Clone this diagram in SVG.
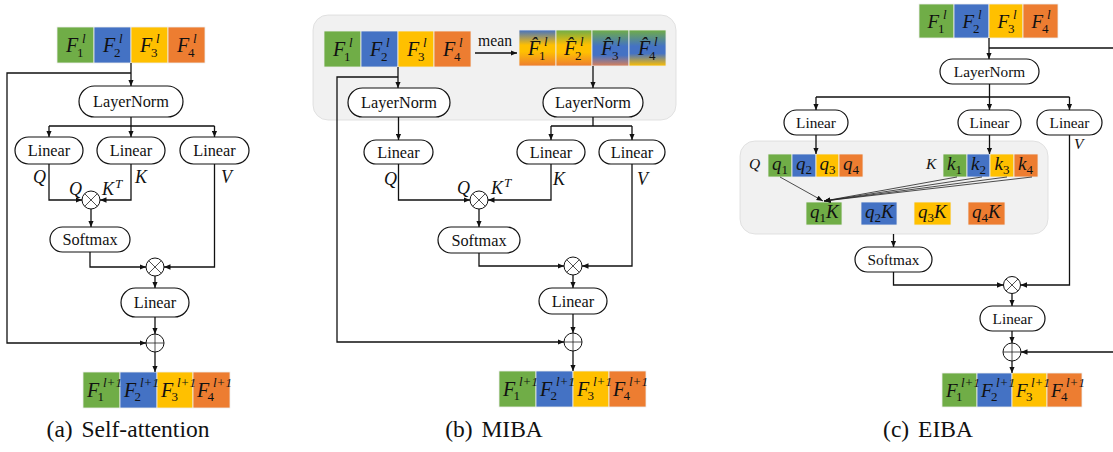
<svg xmlns="http://www.w3.org/2000/svg" width="1113" height="452" viewBox="0 0 1113 452">
<style>
.bg{fill:#fff}
.g{fill:#70AD47}.b{fill:#4472C4}.y{fill:#FFC000}.o{fill:#ED7D31}
.cell{stroke:#eeeeee;stroke-width:0.8}
.box{fill:#fff;stroke:#111;stroke-width:1.2}
.panel{fill:#F1F1F1;stroke:#dadada;stroke-width:0.8}
.t{font-family:"Liberation Serif","Times New Roman",serif;font-size:16.3px;fill:#111;text-anchor:middle}
.ts{font-family:"Liberation Serif","Times New Roman",serif;font-size:15.3px;fill:#111;text-anchor:middle}
.cap{font-family:"Liberation Serif","Times New Roman",serif;font-size:23.5px;fill:#111;text-anchor:middle;word-spacing:3px}
.F{font-family:"Liberation Serif","Times New Roman",serif;font-style:italic;font-size:20px;fill:#111}
.Fs{font-family:"Liberation Serif","Times New Roman",serif;font-style:italic;font-size:19px;fill:#111}
.sup{font-family:"Liberation Serif","Times New Roman",serif;font-style:italic;font-size:13px;fill:#111}
.sub{font-family:"Liberation Serif","Times New Roman",serif;font-style:normal;font-size:13px;fill:#111}
.lab{font-family:"Liberation Serif","Times New Roman",serif;font-style:italic;font-size:18px;fill:#111}
.labs{font-family:"Liberation Serif","Times New Roman",serif;font-style:italic;font-size:15.5px;fill:#111}
.mean{font-family:"Liberation Serif","Times New Roman",serif;font-size:15.7px;fill:#111;text-anchor:middle}
.ln{fill:none;stroke:#111;stroke-width:1.3}
.lnt{fill:none;stroke:#222;stroke-width:0.8}
.arr{marker-end:url(#ah)}
.arrs{marker-end:url(#ahs)}
.op{fill:#fff;stroke:#111;stroke-width:1}
</style>
<defs>
<marker id="ah" markerUnits="userSpaceOnUse" markerWidth="7" markerHeight="6" refX="6.5" refY="3" orient="auto"><path d="M0,0.2 L6.5,3 L0,5.8 z" fill="#111"/></marker>
<marker id="ahs" markerUnits="userSpaceOnUse" markerWidth="7" markerHeight="6" refX="6.5" refY="3" orient="auto"><path d="M0,0.5 L6.5,3 L0,5.5 z" fill="#111"/></marker>
<linearGradient id="h1" x1="0" y1="0" x2="0" y2="1"><stop offset="0" stop-color="#4472C4"/><stop offset="0.42" stop-color="#FFC000"/><stop offset="0.6" stop-color="#FFC000"/><stop offset="1" stop-color="#ED7D31"/></linearGradient>
<linearGradient id="h2" x1="0" y1="0" x2="0" y2="1"><stop offset="0" stop-color="#70AD47"/><stop offset="0.42" stop-color="#FFC000"/><stop offset="0.62" stop-color="#FFC000"/><stop offset="1" stop-color="#ED7D31"/></linearGradient>
<linearGradient id="h3" x1="0" y1="0" x2="0" y2="1"><stop offset="0" stop-color="#70AD47"/><stop offset="0.45" stop-color="#4472C4"/><stop offset="0.7" stop-color="#4472C4"/><stop offset="1" stop-color="#D9805A"/></linearGradient>
<linearGradient id="h4" x1="0" y1="0" x2="0" y2="1"><stop offset="0" stop-color="#70AD47"/><stop offset="0.45" stop-color="#4472C4"/><stop offset="0.65" stop-color="#4472C4"/><stop offset="1" stop-color="#FFC000"/></linearGradient>
</defs>
<rect class="bg" x="0" y="0" width="1113" height="452"/>

<!-- ============ Panel (a) ============ -->
<g id="a-input">
<rect class="cell g" x="57" y="27" width="37" height="36"/><rect class="cell b" x="94" y="27" width="37" height="36"/><rect class="cell y" x="131" y="27" width="37" height="36"/><rect class="cell o" x="168" y="27" width="37" height="36"/>
<text class="F" x="66" y="52">F</text><text class="sup" x="82" y="43">l</text><text class="sub" x="77" y="57">1</text>
<text class="F" x="103" y="52">F</text><text class="sup" x="119" y="43">l</text><text class="sub" x="114" y="57">2</text>
<text class="F" x="140" y="52">F</text><text class="sup" x="156" y="43">l</text><text class="sub" x="151" y="57">3</text>
<text class="F" x="177" y="52">F</text><text class="sup" x="193" y="43">l</text><text class="sub" x="188" y="57">4</text>
</g>
<g id="a-layernorm"><rect class="box" x="79" y="86" width="104" height="31" rx="15.5"/><text class="t" x="131" y="107">LayerNorm</text></g>
<g id="a-linq"><rect class="box" x="15" y="137" width="68" height="27" rx="13.5"/><text class="t" x="49" y="156">Linear</text></g>
<g id="a-link"><rect class="box" x="97" y="137" width="68" height="27" rx="13.5"/><text class="t" x="131" y="156">Linear</text></g>
<g id="a-linv"><rect class="box" x="180" y="137" width="69" height="27" rx="13.5"/><text class="t" x="214.5" y="156">Linear</text></g>
<g id="a-mul1"><circle class="op" cx="91" cy="200" r="9"/><path class="lnt" d="M84.6,193.6 L97.4,206.4 M97.4,193.6 L84.6,206.4"/></g>
<g id="a-softmax"><rect class="box" x="50" y="227" width="80" height="25" rx="12.5"/><text class="t" x="90" y="245">Softmax</text></g>
<g id="a-mul2"><circle class="op" cx="155" cy="267" r="9"/><path class="lnt" d="M148.6,260.6 L161.4,273.4 M161.4,260.6 L148.6,273.4"/></g>
<g id="a-linout"><rect class="box" x="121" y="288" width="68" height="29" rx="14.5"/><text class="t" x="155" y="308">Linear</text></g>
<g id="a-add"><circle class="op" cx="155" cy="343" r="9"/><path class="lnt" d="M146,343 H164 M155,334 V352"/></g>
<g id="a-output">
<rect class="cell g" x="83" y="372" width="37" height="36"/><rect class="cell b" x="120" y="372" width="37" height="36"/><rect class="cell y" x="157" y="372" width="36" height="36"/><rect class="cell o" x="193" y="372" width="37" height="36"/>
<text class="F" x="87" y="397">F</text><text class="sup" x="103" y="387">l+1</text><text class="sub" x="97.5" y="401">1</text>
<text class="F" x="124" y="397">F</text><text class="sup" x="140" y="387">l+1</text><text class="sub" x="134.5" y="401">2</text>
<text class="F" x="161" y="397">F</text><text class="sup" x="177" y="387">l+1</text><text class="sub" x="171.5" y="401">3</text>
<text class="F" x="197" y="397">F</text><text class="sup" x="213" y="387">l+1</text><text class="sub" x="207.5" y="401">4</text>
</g>
<g id="a-labels">
<text class="lab" x="33" y="183">Q</text><text class="lab" x="135" y="183">K</text><text class="lab" x="221" y="183">V</text>
<text class="lab" x="69" y="195">Q</text><text class="lab" x="102" y="195">K</text><text class="sup" x="115" y="188">T</text>
</g>
<text class="cap" x="128" y="437">(a) Self-attention</text>

<!-- ============ Panel (b) ============ -->
<rect id="b-panel" class="panel" x="313" y="15" width="363" height="105" rx="15"/>
<g id="b-input">
<rect class="cell g" x="324" y="31" width="37" height="36"/><rect class="cell b" x="361" y="31" width="37" height="36"/><rect class="cell y" x="398" y="31" width="36" height="36"/><rect class="cell o" x="434" y="31" width="37" height="36"/>
<text class="F" x="333" y="56">F</text><text class="sup" x="349" y="47">l</text><text class="sub" x="344" y="61">1</text>
<text class="F" x="370" y="56">F</text><text class="sup" x="386" y="47">l</text><text class="sub" x="381" y="61">2</text>
<text class="F" x="407" y="56">F</text><text class="sup" x="423" y="47">l</text><text class="sub" x="418" y="61">3</text>
<text class="F" x="443" y="56">F</text><text class="sup" x="459" y="47">l</text><text class="sub" x="454" y="61">4</text>
</g>
<g id="b-mean">
<rect class="cell" fill="url(#h1)" x="519" y="30" width="37" height="36"/><rect class="cell" fill="url(#h2)" x="556" y="30" width="36" height="36"/><rect class="cell" fill="url(#h3)" x="592" y="30" width="37" height="36"/><rect class="cell" fill="url(#h4)" x="629" y="30" width="37" height="36"/>
<text class="F" x="528" y="55">F̂</text><text class="sup" x="544" y="46">l</text><text class="sub" x="539" y="60">1</text>
<text class="F" x="564" y="55">F̂</text><text class="sup" x="580" y="46">l</text><text class="sub" x="575" y="60">2</text>
<text class="F" x="601" y="55">F̂</text><text class="sup" x="617" y="46">l</text><text class="sub" x="612" y="60">3</text>
<text class="F" x="638" y="55">F̂</text><text class="sup" x="654" y="46">l</text><text class="sub" x="649" y="60">4</text>
</g>
<text class="mean" x="495" y="46">mean</text>
<g id="b-ln1"><rect class="box" x="348" y="88" width="102" height="29" rx="14.5"/><text class="t" x="399" y="108">LayerNorm</text></g>
<g id="b-ln2"><rect class="box" x="543" y="88" width="100" height="29" rx="14.5"/><text class="t" x="593" y="108">LayerNorm</text></g>
<g id="b-linq"><rect class="box" x="364" y="140" width="69" height="24" rx="12"/><text class="t" x="398.5" y="157.5">Linear</text></g>
<g id="b-link"><rect class="box" x="517" y="140" width="68" height="24" rx="12"/><text class="t" x="551" y="157.5">Linear</text></g>
<g id="b-linv"><rect class="box" x="599" y="140" width="66" height="24" rx="12"/><text class="t" x="632" y="157.5">Linear</text></g>
<g id="b-mul1"><circle class="op" cx="479" cy="200" r="9"/><path class="lnt" d="M472.6,193.6 L485.4,206.4 M485.4,193.6 L472.6,206.4"/></g>
<g id="b-softmax"><rect class="box" x="438" y="227" width="82" height="26" rx="13"/><text class="t" x="479" y="245.5">Softmax</text></g>
<g id="b-mul2"><circle class="op" cx="573" cy="266" r="9"/><path class="lnt" d="M566.6,259.6 L579.4,272.4 M579.4,259.6 L566.6,272.4"/></g>
<g id="b-linout"><rect class="box" x="539" y="288" width="68" height="26" rx="13"/><text class="t" x="573" y="306.5">Linear</text></g>
<g id="b-add"><circle class="op" cx="573" cy="342" r="9"/><path class="lnt" d="M564,342 H582 M573,333 V351"/></g>
<g id="b-output">
<rect class="cell g" x="499" y="371" width="37" height="36"/><rect class="cell b" x="536" y="371" width="37" height="36"/><rect class="cell y" x="573" y="371" width="36" height="36"/><rect class="cell o" x="609" y="371" width="37" height="36"/>
<text class="F" x="503" y="396">F</text><text class="sup" x="519" y="386">l+1</text><text class="sub" x="513.5" y="400">1</text>
<text class="F" x="540" y="396">F</text><text class="sup" x="556" y="386">l+1</text><text class="sub" x="550.5" y="400">2</text>
<text class="F" x="577" y="396">F</text><text class="sup" x="593" y="386">l+1</text><text class="sub" x="587.5" y="400">3</text>
<text class="F" x="613" y="396">F</text><text class="sup" x="629" y="386">l+1</text><text class="sub" x="623.5" y="400">4</text>
</g>
<g id="b-labels">
<text class="lab" x="384" y="185">Q</text><text class="lab" x="553" y="185">K</text><text class="lab" x="637" y="185">V</text>
<text class="lab" x="457" y="194">Q</text><text class="lab" x="491" y="194">K</text><text class="sup" x="504" y="187">T</text>
</g>
<text class="cap" x="494" y="437">(b) MIBA</text>

<!-- ============ Panel (c) ============ -->
<g id="c-input">
<rect class="cell g" x="919" y="4" width="35" height="34"/><rect class="cell b" x="954" y="4" width="35" height="34"/><rect class="cell y" x="989" y="4" width="34" height="34"/><rect class="cell o" x="1023" y="4" width="35" height="34"/>
<text class="Fs" x="927.5" y="27.5">F</text><text class="sup" x="943" y="19">l</text><text class="sub" x="938" y="32.5">1</text>
<text class="Fs" x="962.5" y="27.5">F</text><text class="sup" x="978" y="19">l</text><text class="sub" x="973" y="32.5">2</text>
<text class="Fs" x="997.5" y="27.5">F</text><text class="sup" x="1013" y="19">l</text><text class="sub" x="1008" y="32.5">3</text>
<text class="Fs" x="1031.5" y="27.5">F</text><text class="sup" x="1047" y="19">l</text><text class="sub" x="1042" y="32.5">4</text>
</g>
<g id="c-layernorm"><rect class="box" x="940" y="59" width="99" height="25" rx="12.5"/><text class="ts" x="989.5" y="77">LayerNorm</text></g>
<g id="c-linq"><rect class="box" x="784" y="110" width="64" height="25" rx="12.5"/><text class="ts" x="816" y="128">Linear</text></g>
<g id="c-link"><rect class="box" x="958" y="110" width="63" height="25" rx="12.5"/><text class="ts" x="989.5" y="128">Linear</text></g>
<g id="c-linv"><rect class="box" x="1037" y="110" width="65" height="25" rx="12.5"/><text class="ts" x="1069.5" y="128">Linear</text></g>
<rect id="c-panel" class="panel" x="740" y="141" width="308" height="93" rx="15"/>
<g id="c-q">
<rect class="cell g" x="768" y="154" width="24" height="23"/><rect class="cell b" x="792" y="154" width="24" height="23"/><rect class="cell y" x="816" y="154" width="23" height="23"/><rect class="cell o" x="839" y="154" width="24" height="23"/>
<text class="Fs" x="772" y="170">q<tspan class="sub" dy="4">1</tspan></text>
<text class="Fs" x="796" y="170">q<tspan class="sub" dy="4">2</tspan></text>
<text class="Fs" x="819.5" y="170">q<tspan class="sub" dy="4">3</tspan></text>
<text class="Fs" x="843" y="170">q<tspan class="sub" dy="4">4</tspan></text>
</g>
<g id="c-k">
<rect class="cell g" x="943" y="154" width="24" height="23"/><rect class="cell b" x="967" y="154" width="23" height="23"/><rect class="cell y" x="990" y="154" width="24" height="23"/><rect class="cell o" x="1014" y="154" width="24" height="23"/>
<text class="Fs" x="947" y="170">k<tspan class="sub" dy="4">1</tspan></text>
<text class="Fs" x="971" y="170">k<tspan class="sub" dy="4">2</tspan></text>
<text class="Fs" x="994.5" y="170">k<tspan class="sub" dy="4">3</tspan></text>
<text class="Fs" x="1018" y="170">k<tspan class="sub" dy="4">4</tspan></text>
</g>
<g id="c-qk">
<rect class="cell g" x="806" y="202" width="36" height="23"/><rect class="cell b" x="861" y="202" width="36" height="23"/><rect class="cell y" x="914" y="202" width="37" height="23"/><rect class="cell o" x="968" y="202" width="37" height="23"/>
<text class="Fs" x="810" y="218">q<tspan class="sub" dy="4">1</tspan><tspan dy="-4">K</tspan></text>
<text class="Fs" x="865" y="218">q<tspan class="sub" dy="4">2</tspan><tspan dy="-4">K</tspan></text>
<text class="Fs" x="918" y="218">q<tspan class="sub" dy="4">3</tspan><tspan dy="-4">K</tspan></text>
<text class="Fs" x="972" y="218">q<tspan class="sub" dy="4">4</tspan><tspan dy="-4">K</tspan></text>
</g>
<g id="c-softmax"><rect class="box" x="855" y="247" width="77" height="25" rx="12.5"/><text class="ts" x="893.5" y="265">Softmax</text></g>
<g id="c-mul"><circle class="op" cx="1012" cy="285" r="8.5"/><path class="lnt" d="M1006,279 L1018,291 M1018,279 L1006,291"/></g>
<g id="c-linout"><rect class="box" x="980" y="306" width="65" height="25" rx="12.5"/><text class="ts" x="1012.5" y="324">Linear</text></g>
<g id="c-add"><circle class="op" cx="1012" cy="352" r="9"/><path class="lnt" d="M1003,352 H1021 M1012,343 V361"/></g>
<g id="c-output">
<rect class="cell g" x="942" y="373" width="35" height="34"/><rect class="cell b" x="977" y="373" width="35" height="34"/><rect class="cell y" x="1012" y="373" width="35" height="34"/><rect class="cell o" x="1047" y="373" width="35" height="34"/>
<text class="Fs" x="946" y="396.5">F</text><text class="sup" x="961" y="387">l+1</text><text class="sub" x="956" y="401">1</text>
<text class="Fs" x="981" y="396.5">F</text><text class="sup" x="996" y="387">l+1</text><text class="sub" x="991" y="401">2</text>
<text class="Fs" x="1016" y="396.5">F</text><text class="sup" x="1031" y="387">l+1</text><text class="sub" x="1026" y="401">3</text>
<text class="Fs" x="1051" y="396.5">F</text><text class="sup" x="1066" y="387">l+1</text><text class="sub" x="1061" y="401">4</text>
</g>
<g id="c-labels">
<text class="labs" x="749" y="169">Q</text><text class="labs" x="926" y="169">K</text><text class="labs" x="1074" y="149">V</text>
</g>
<text class="cap" x="928" y="437">(c) EIBA</text>

<!-- ============ Connectors ============ -->
<g id="connectors">
<!-- (a) -->
<path class="ln arr" d="M131,63 V86"/>
<path class="ln arr" d="M131,73 H7 V343 H146"/>
<path class="ln" d="M131,117 V126 M49,126 H214.5"/>
<path class="ln arr" d="M49,126 V137"/>
<path class="ln arr" d="M131,126 V137"/>
<path class="ln arr" d="M214.5,126 V137"/>
<path class="ln arr" d="M49,164 V200 H82"/>
<path class="ln arr" d="M131,164 V200 H100"/>
<path class="ln arr" d="M91,209 V227"/>
<path class="ln arr" d="M90,252 V267 H146"/>
<path class="ln arr" d="M214.5,164 V267 H164"/>
<path class="ln arr" d="M155,276 V288"/>
<path class="ln arr" d="M155,317 V334"/>
<path class="ln arr" d="M155,352 V372"/>
<!-- (b) -->
<path class="ln arr" d="M475,53 H517"/>
<path class="ln arr" d="M398,67 V88"/>
<path class="ln arr" d="M398,77 H337 V342 H564"/>
<path class="ln arr" d="M593,66 V88"/>
<path class="ln arr" d="M398.5,117 V140"/>
<path class="ln" d="M593,117 V126 M551,126 H632"/>
<path class="ln arr" d="M551,126 V140"/>
<path class="ln arr" d="M632,126 V140"/>
<path class="ln arr" d="M398.5,164 V200 H470"/>
<path class="ln arr" d="M551,164 V200 H488"/>
<path class="ln arr" d="M479,209 V227"/>
<path class="ln arr" d="M479,253 V266 H564"/>
<path class="ln arr" d="M632,164 V266 H582"/>
<path class="ln arr" d="M573,275 V288"/>
<path class="ln arr" d="M573,314 V333"/>
<path class="ln arr" d="M573,351 V371"/>
<!-- (c) -->
<path class="ln arr" d="M989,38 V59"/>
<path class="ln arr" d="M989,48 H1125 V352 H1021"/>
<path class="ln" d="M989.5,84 V97 M816,97 H1069.5"/>
<path class="ln arr" d="M816,97 V110"/>
<path class="ln arr" d="M989.5,97 V110"/>
<path class="ln arr" d="M1069.5,97 V110"/>
<path class="ln arr" d="M816,135 V154"/>
<path class="ln arr" d="M989.5,135 V154"/>
<path class="lnt arrs" d="M780,177 L823,201"/>
<path class="lnt arrs" d="M957,177 L824,201"/>
<path class="lnt arrs" d="M982,177 L824,201"/>
<path class="lnt arrs" d="M1007,177 L824,201"/>
<path class="lnt arrs" d="M1032,177 L824,201"/>
<path class="ln arr" d="M893.5,234 V247"/>
<path class="ln arr" d="M893.5,272 V285 H1003.5"/>
<path class="ln arr" d="M1069.5,135 V285 H1020.5"/>
<path class="ln arr" d="M1012,293.5 V306"/>
<path class="ln arr" d="M1012,331 V343"/>
<path class="ln arr" d="M1012,361 V373"/>
</g>
</svg>
